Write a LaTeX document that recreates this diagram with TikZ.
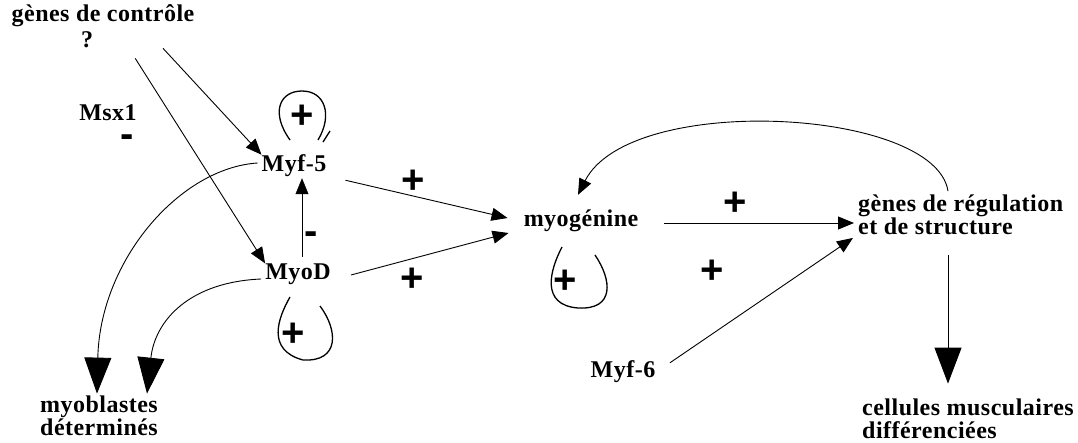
\documentclass[tikz,border=0pt]{standalone}
\usepackage{fontspec}
\setmainfont{Liberation Serif}
\newfontfamily\signfont{Liberation Sans}
\usetikzlibrary{arrows.meta,calc}
\tikzset{
  lbl/.style={font=\addfontfeature{LetterSpace=2}\bfseries\fontsize{24}{22.5}\selectfont, inner sep=0pt, align=left},
  sign/.style={font=\signfont\bfseries\fontsize{40}{40}\selectfont, inner sep=0pt},
  link/.style={line width=0.9pt},
  arr/.style={link, -{Triangle[length=16pt,width=13pt]}},
  thinarr/.style={line width=0.5pt, -{Triangle[length=16pt,width=13pt]}},
  bigarr/.style={link, -{Triangle[length=36pt,width=27pt]}},
  loopline/.style={line width=1.3pt}
}
\begin{document}
\begin{tikzpicture}[x=1pt,y=-1pt]
\useasboundingbox (0,0) rectangle (1078,442);

% gene names
\node[lbl] (ctrl) at (103,16) {gènes de contrôle};
\node[lbl] (q) at (87,40) {?};
\node[lbl] (msx) at (108,113) {Msx1};
\node[lbl] (myf5) at (294,166) {Myf-5};
\node[lbl] (myod) at (298,274) {MyoD};
\node[lbl] (myog) at (581,221) {myogénine};
\node[lbl, anchor=west] (genes) at (858,215) {gènes de régulation\\et de structure};
\node[lbl] (myf6) at (623,372) {Myf-6};
\node[lbl, anchor=west] (cell) at (862,419) {cellules musculaires\\différenciées};
\node[lbl, anchor=west] (myob) at (40,416) {myoblastes\\déterminés};

% activation / repression signs
\node[sign] (sMsx) at (127,141) {-};
\node[sign] (sLoop5) at (302,117) {+};
\node[sign] (sMyoDm) at (311,238) {-};
\node[sign] (sLoopD) at (293,335) {+};
\node[sign] (s5g) at (413,182) {+};
\node[sign] (sDg) at (412,280) {+};
\node[sign] (sLoopG) at (565,282) {+};
\node[sign] (sGr) at (735,204) {+};
\node[sign] (s6r) at (712,272) {+};

% connectors
\draw[arr] ($(ctrl.south)+(60,21)$) -- (myf5.north west);
\draw[arr] ($(q.south east)+(42,10)$) -- (myod.north west);
\draw[thinarr] ($(myod.north)+(4,-6.5)$) -- ($(myf5.south)+(8,1)$);
\draw[arr] ($(myf5.south east)+(19,3)$) -- ($(myog.west)+(-16,-3)$);
\draw[arr] ($(myod.east)+(20,1)$) -- ($(myog.west)+(-15,12)$);
\draw[arr] ($(myog.east)+(26,2)$) -- ($(genes.west)+(-4,8)$);
\draw[arr] ($(myf6.north east)+(14.5,2)$) -- ($(genes.south west)+(-5,3)$);
\draw[arr] ($(genes.north west)+(90,-4)$) .. controls (935,108) and (630,92) .. ($(myog.north)+(-3,-15)$);
\draw[bigarr] ($(genes.south west)+(90,20)$) -- ($(cell.north west)+(86,-15.5)$);
\draw[bigarr] ($(myf5.west)+(-4,-3)$) .. controls (180,168) and (100,260) .. ($(myob.north west)+(57,-2.5)$);
\draw[bigarr] ($(myod.west)+(-4,5)$) .. controls (190,282) and (155,320) .. ($(myob.north west)+(107,-2.5)$);

% autoregulation loops
\draw[loopline] (290,140) .. controls (270,112) and (280,91) .. (302,91)
  .. controls (325,91) and (333,115) .. (318,140);
\draw[loopline] (323,142) -- (330,131);
\draw[loopline] (290,297) .. controls (278,318) and (266,350) .. (303,360)
  .. controls (340,362) and (338,330) .. (320,306);
\draw[loopline] (562,247) .. controls (550,270) and (540,305) .. (578,308)
  .. controls (615,310) and (612,280) .. (595,255);
\end{tikzpicture}
\end{document}
